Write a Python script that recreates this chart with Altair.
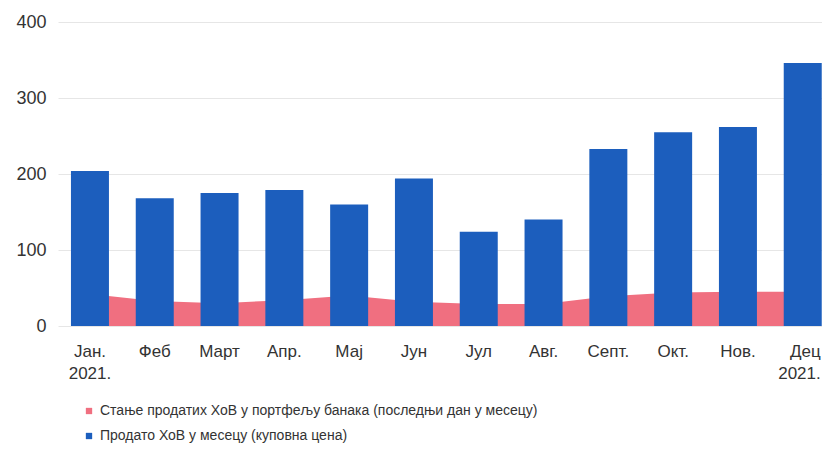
import altair as alt
import pandas as pd

months = ["Јан.|2021.", "Феб", "Март", "Апр.", "Мај", "Јун", "Јул", "Авг.", "Септ.", "Окт.", "Нов.", "Дец|2021."]
sold = [204, 168, 175, 179, 160, 194, 124, 140, 233, 255, 262, 346]
stock = [42, 33, 30, 34, 40, 32, 29, 29, 39, 44, 45, 45]

s_stock = "Стање продатих ХоВ у портфељу банака (последњи дан у месецу)"
s_sold = "Продато ХоВ у месецу (куповна цена)"

df_area = pd.DataFrame({"month": months, "value": stock, "series": s_stock})
df_bar = pd.DataFrame({"month": months, "value": sold, "series": s_sold})

FONT = "Liberation Sans"
last_test = "datum.value == '" + months[-1] + "'"

color = alt.Color(
    "series:N",
    scale=alt.Scale(domain=[s_stock, s_sold], range=["#f06f80", "#1c5ebd"]),
    legend=alt.Legend(
        title=None, orient="none", legendX=24, legendY=382, direction="vertical",
        symbolType="square", symbolSize=40, labelFontSize=14, labelFont=FONT,
        labelColor="#333333", rowPadding=11, labelLimit=600, symbolStrokeWidth=0,
    ),
)

x = alt.X(
    "month:N", sort=months, title=None,
    scale=alt.Scale(paddingInner=0.4136, paddingOuter=0.102, align=0.98, round=False),
    axis=alt.Axis(labelAngle=0, ticks=False, domain=False, labelFontSize=17, labelFont=FONT,
                  labelColor="#333333", labelPadding=17, labelExpr="split(datum.label, '|')",
                  labelLineHeight=22,
                  labelAlign={"condition": {"test": last_test, "value": "right"}, "value": "center"},
                  labelOffset={"condition": {"test": last_test, "value": 18}, "value": 0}),
)
y = alt.Y(
    "value:Q", title=None,
    scale=alt.Scale(domain=[0, 400]),
    axis=alt.Axis(values=[0, 100, 200, 300, 400], ticks=False, domain=False, labelFontSize=18,
                  labelFont=FONT, labelColor="#333333", labelPadding=12,
                  gridColor="#e6e6e6", gridWidth=1),
)

area = alt.Chart(df_area).mark_area(opacity=1).encode(x=x, y=y, color=color)
bars = alt.Chart(df_bar).mark_bar().encode(x=x, y=y, color=color)

chart = alt.layer(area, bars).properties(
    width=764, height=304,
    autosize=alt.AutoSizeParams(type="none"),
    padding={"left": 50, "top": 14, "right": 0, "bottom": 120},
).configure_view(stroke=None)

chart.save("out.html", embed_options={"renderer": "svg", "actions": False})
